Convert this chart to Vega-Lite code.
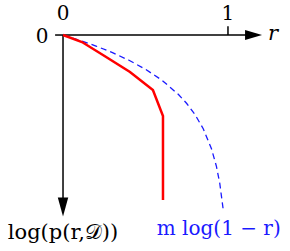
{
  "$schema": "https://vega.github.io/schema/vega-lite/v6.json",
  "width": 290,
  "height": 251,
  "padding": 0,
  "autosize": {"type": "fit", "contains": "padding"},
  "config": {"view": {"stroke": null}},
  "datasets": {
    "red": [
      {"i": 0, "r": 0, "v": 0},
      {"i": 1, "r": 0.115, "v": -0.142},
      {"i": 2, "r": 0.242, "v": -0.405},
      {"i": 3, "r": 0.406, "v": -0.749},
      {"i": 4, "r": 0.545, "v": -1.113},
      {"i": 5, "r": 0.606, "v": -1.64},
      {"i": 6, "r": 0.606, "v": -3.34}
    ],
    "blue": [
      {"r": 0, "v": 0},
      {"r": 0.1, "v": -0.105},
      {"r": 0.2, "v": -0.223},
      {"r": 0.3, "v": -0.357},
      {"r": 0.4, "v": -0.511},
      {"r": 0.5, "v": -0.693},
      {"r": 0.6, "v": -0.916},
      {"r": 0.7, "v": -1.204},
      {"r": 0.75, "v": -1.386},
      {"r": 0.8, "v": -1.609},
      {"r": 0.85, "v": -1.897},
      {"r": 0.9, "v": -2.303},
      {"r": 0.93, "v": -2.659},
      {"r": 0.95, "v": -2.996},
      {"r": 0.97, "v": -3.507}
    ],
    "axes": [
      {"x": 0, "x2": 1.16, "y": 0, "y2": 0},
      {"x": 0, "x2": 0, "y": 0, "y2": -3.49},
      {"x": -0.048, "x2": 0, "y": 0, "y2": 0},
      {"x": 1, "x2": 1, "y": 0.18, "y2": 0}
    ],
    "arrowx": [{"x": 1.155, "y": 0}],
    "arrowy": [{"x": 0, "y": -3.482}],
    "digits": [
      {"x": 0, "y": 0.314, "t": "0"},
      {"x": 1, "y": 0.314, "t": "1"},
      {"x": -0.127, "y": -0.152, "t": "0"}
    ],
    "ylab": [{"x": 0.0, "y": -4.12, "t": "log(p(r,𝒟))"}],
    "rlab": [{"x": 1.273, "y": -0.101, "t": "r"}],
    "mlab": [{"x": 0.944, "y": -4.049, "t": "m log(1 − r)"}]
  },
  "encoding": {
    "x": {"type": "quantitative", "scale": {"domain": [-0.382, 1.376], "nice": false, "zero": false}, "axis": null},
    "y": {"type": "quantitative", "scale": {"domain": [-4.372, 0.709], "nice": false, "zero": false}, "axis": null}
  },
  "layer": [
    {
      "data": {"name": "axes"},
      "mark": {"type": "rule", "color": "black", "strokeWidth": 1.5},
      "encoding": {
        "x": {"field": "x", "type": "quantitative"},
        "x2": {"field": "x2"},
        "y": {"field": "y", "type": "quantitative"},
        "y2": {"field": "y2"}
      }
    },
    {
      "data": {"name": "arrowx"},
      "mark": {"type": "point", "shape": "M-1,-0.6L1,0L-1,0.6Z", "filled": true, "color": "black", "size": 289, "opacity": 1},
      "encoding": {
        "x": {"field": "x", "type": "quantitative"},
        "y": {"field": "y", "type": "quantitative"}
      }
    },
    {
      "data": {"name": "arrowy"},
      "mark": {"type": "point", "shape": "M-0.55,-1L0,1L0.55,-1Z", "filled": true, "color": "black", "size": 361, "opacity": 1},
      "encoding": {
        "x": {"field": "x", "type": "quantitative"},
        "y": {"field": "y", "type": "quantitative"}
      }
    },
    {
      "data": {"name": "blue"},
      "mark": {"type": "line", "color": "#1a1aff", "strokeWidth": 1.3, "strokeDash": [6, 4]},
      "encoding": {
        "x": {"field": "r", "type": "quantitative"},
        "y": {"field": "v", "type": "quantitative"}
      }
    },
    {
      "data": {"name": "red"},
      "mark": {"type": "line", "color": "#ff0000", "strokeWidth": 2.5},
      "encoding": {
        "x": {"field": "r", "type": "quantitative"},
        "y": {"field": "v", "type": "quantitative"},
        "order": {"field": "i", "type": "quantitative"}
      }
    },
    {
      "data": {"name": "digits"},
      "mark": {"type": "text", "font": "DejaVu Serif", "fontSize": 20, "baseline": "alphabetic", "align": "center", "color": "black"},
      "encoding": {
        "x": {"field": "x", "type": "quantitative"},
        "y": {"field": "y", "type": "quantitative"},
        "text": {"field": "t"}
      }
    },
    {
      "data": {"name": "ylab"},
      "mark": {"type": "text", "font": "DejaVu Serif", "fontSize": 21, "baseline": "alphabetic", "align": "center", "color": "black"},
      "encoding": {
        "x": {"field": "x", "type": "quantitative"},
        "y": {"field": "y", "type": "quantitative"},
        "text": {"field": "t"}
      }
    },
    {
      "data": {"name": "rlab"},
      "mark": {"type": "text", "font": "DejaVu Serif", "fontStyle": "italic", "fontSize": 21, "baseline": "alphabetic", "align": "center", "color": "black"},
      "encoding": {
        "x": {"field": "x", "type": "quantitative"},
        "y": {"field": "y", "type": "quantitative"},
        "text": {"field": "t"}
      }
    },
    {
      "data": {"name": "mlab"},
      "mark": {"type": "text", "font": "DejaVu Serif", "fontSize": 20, "baseline": "alphabetic", "align": "center", "color": "#1a1aff"},
      "encoding": {
        "x": {"field": "x", "type": "quantitative"},
        "y": {"field": "y", "type": "quantitative"},
        "text": {"field": "t"}
      }
    }
  ]
}
